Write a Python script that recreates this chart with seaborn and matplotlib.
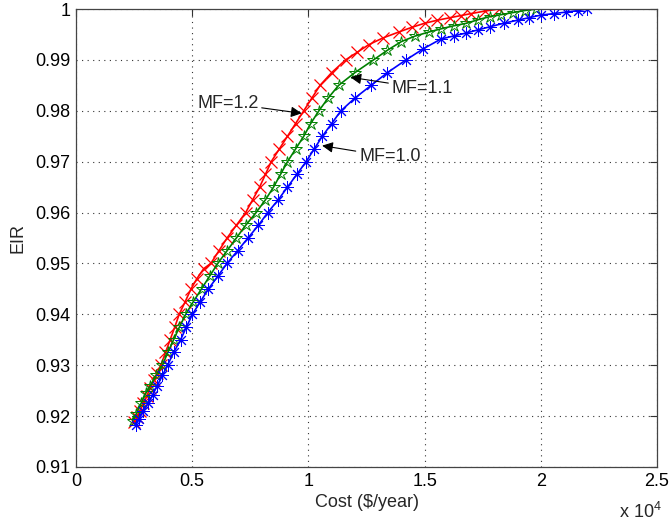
import matplotlib
matplotlib.use("Agg")
import matplotlib.pyplot as plt
import seaborn as sns
import numpy as np
import pandas as pd
from matplotlib.ticker import FuncFormatter, MultipleLocator

# ---- data (cost in $/year, EIR) ----
cost_mf12 = [2500, 2620, 2750, 2900, 3050, 3200, 3350, 3500, 3650, 3850, 4050, 4250,
             4440, 4700, 4950, 5200, 5500, 5800, 6150, 6500, 6900, 7300, 7600, 7900,
             8150, 8400, 8750, 9100, 9450, 9800, 10150, 10500, 11000, 11600, 12100,
             12600, 13200, 13900, 14450, 15000, 15550, 16100, 16550, 17000, 17600, 18200]
eir_mf12 = [0.9189, 0.9198, 0.9210, 0.9225, 0.9240, 0.9255, 0.9270, 0.9285, 0.9300,
            0.9325, 0.9350, 0.9375, 0.9400, 0.9425, 0.9450, 0.9470, 0.9490, 0.9500,
            0.9525, 0.9550, 0.9575, 0.9600, 0.9625, 0.9650, 0.9675, 0.9700, 0.9725,
            0.9750, 0.9775, 0.9800, 0.9825, 0.9850, 0.9875, 0.9900, 0.9915, 0.9930,
            0.9943, 0.9955, 0.9964, 0.9972, 0.9978, 0.9983, 0.9987, 0.9991, 0.9996, 1.0000]

cost_mf11 = [2440, 2600, 2800, 3000, 3200, 3450, 3720, 3950, 4200, 4450, 4720, 5050,
             5400, 5750, 6100, 6500, 6900, 7300, 7750, 8150, 8500, 8800, 9100, 9450,
             9800, 10100, 10450, 10850, 11300, 12000, 12800, 13400, 14000, 14600, 15200,
             15700, 16250, 16800, 17300, 17800, 18300, 18800, 19300, 19800]
eir_mf11 = [0.9191, 0.9205, 0.9225, 0.9245, 0.9260, 0.9280, 0.9300, 0.9325, 0.9350,
            0.9375, 0.9400, 0.9425, 0.9450, 0.9475, 0.9500, 0.9525, 0.9550, 0.9575,
            0.9600, 0.9625, 0.9650, 0.9675, 0.9700, 0.9725, 0.9750, 0.9775, 0.9800,
            0.9825, 0.9850, 0.9875, 0.9900, 0.9919, 0.9936, 0.9947, 0.9955, 0.9961,
            0.9967, 0.9972, 0.9979, 0.9985, 0.9989, 0.9993, 0.9997, 1.0000]

cost_mf10 = [2580, 2720, 2900, 3100, 3300, 3500, 3720, 3940, 4200, 4500, 4750, 5010,
             5350, 5700, 6100, 6500, 6950, 7400, 7850, 8250, 8700, 9100, 9500, 9900,
             10250, 10600, 11000, 11400, 12000, 12700, 13400, 14200, 14950, 15700,
             16250, 16800, 17300, 17800, 18400, 19000, 19500, 20000, 20550, 21100,
             21600, 22000]
eir_mf10 = [0.9183, 0.9195, 0.9210, 0.9225, 0.9242, 0.9260, 0.9280, 0.9300, 0.9325,
            0.9350, 0.9375, 0.9400, 0.9425, 0.9450, 0.9475, 0.9500, 0.9525, 0.9550,
            0.9575, 0.9600, 0.9625, 0.9650, 0.9675, 0.9700, 0.9725, 0.9750, 0.9775,
            0.9800, 0.9825, 0.9850, 0.9875, 0.9900, 0.9922, 0.9941, 0.9947, 0.9953,
            0.9959, 0.9965, 0.9972, 0.9978, 0.9983, 0.9988, 0.9991, 0.9994, 0.9997, 1.0000]

labels = ["MF=1.2", "MF=1.1", "MF=1.0"]
colors = ["#ff0000", "#008000", "#0000ff"]

# annotation anchors (arrow tip in data units, text position in data units)
ann_tips = [(9710, 0.9795), (11810, 0.98658), (10590, 0.97315)]
ann_text = [(6530, 0.9815), (14900, 0.98442), (13500, 0.97098)]

series = [(cost_mf12, eir_mf12), (cost_mf11, eir_mf11), (cost_mf10, eir_mf10)]

sns.set_style("white")
plt.rcParams['font.family'] = ['Liberation Sans', 'DejaVu Sans']
plt.rcParams['mathtext.fontset'] = 'custom'
plt.rcParams['mathtext.rm'] = 'Liberation Sans'

fig = plt.figure(figsize=(6.69, 5.24), dpi=100)
ax = fig.add_axes([0.1136, 0.1088, 0.8685, 0.874])

marker_styles = [
    dict(marker="x", markersize=8, markeredgewidth=0.9),
    dict(marker="*", markersize=9, markeredgewidth=0.7, markerfacecolor="none"),
    dict(marker=(8, 2, 0), markersize=9, markeredgewidth=0.7),
]

for (cx, ey), lab, col, ms in zip(series, labels, colors, marker_styles):
    df = pd.DataFrame({"cost": cx, "eir": ey})
    sns.lineplot(data=df, x="cost", y="eir", ax=ax, color=col, sort=False,
                 estimator=None, linewidth=1.2, markeredgecolor=col, **ms,
                 label=None, legend=False)

for lab, tip, txt in zip(labels, ann_tips, ann_text):
    ax.annotate(lab, xy=tip, xytext=txt, ha="center", va="center", fontsize=13,
                arrowprops=dict(arrowstyle="-|>", color="k", lw=0.8,
                                mutation_scale=16, shrinkA=0, shrinkB=0))

ax.set_xlim(0, 25000)
ax.set_ylim(0.91, 1.0)
ax.xaxis.set_major_locator(MultipleLocator(5000))
ax.yaxis.set_major_locator(MultipleLocator(0.01))
ax.xaxis.set_major_formatter(FuncFormatter(lambda v, p: f"{v/1e4:g}"))
ax.yaxis.set_major_formatter(FuncFormatter(lambda v, p: f"{round(v, 2):g}"))
ax.tick_params(direction="in", length=5, width=0.8, labelsize=13, top=True,
               right=True, colors="#333333", labelcolor="black", pad=4)
ax.grid(True, linestyle=(0, (1, 4)), color="#333333", linewidth=0.8)
for s in ax.spines.values():
    s.set_color("#444444")
    s.set_linewidth(0.9)

ax.set_xlabel("Cost ($/year)", fontsize=13, labelpad=3)
ax.set_ylabel("EIR", fontsize=13, labelpad=6)
ax.text(0.935, -0.098, r"x 10$^4$", transform=ax.transAxes, fontsize=13,
        ha="left", va="center")

fig.savefig("out.png", dpi=100)
